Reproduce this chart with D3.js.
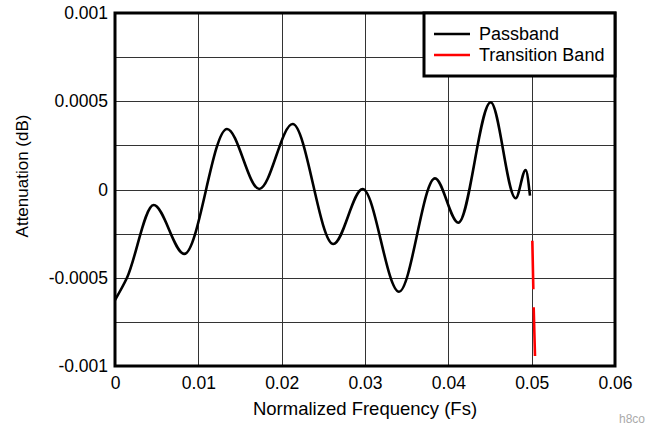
<!DOCTYPE html>
<html>
<head>
<meta charset="utf-8">
<script src="https://cdn.jsdelivr.net/npm/d3@7"></script>
<style>
  body { margin: 0; background: #fff; }
  text { font-family: "Liberation Sans", Arial, sans-serif; }
</style>
</head>
<body>
<div class="canvas"></div>
<script>
// passband ripple (start, turning points, end)
const passFreq = [0, 0.00144, 0.00464, 0.00832, 0.01344, 0.01732, 0.02132, 0.0262, 0.02972,
    0.03408, 0.0384, 0.0412, 0.04508, 0.04808, 0.04928, 0.0498]
const passAtten = [-0.000626, -0.0005, -0.000088, -0.000365, 0.000343, 0.000003, 0.000371, -0.000309, 0.000003,
    -0.000579, 0.000063, -0.000188, 0.000494, -0.00005, 0.00011, -0.000035]

// transition band, null marks the gap between the two visible pieces
const transFreq = [0.05008, 0.0502, null, 0.05024, 0.0504]
const transAtten = [-0.00029, -0.000565, null, -0.000667, -0.000943]

const xTicks = [0, 0.01, 0.02, 0.03, 0.04, 0.05, 0.06]
const yTicks = [-0.001, -0.0005, 0, 0.0005, 0.001]
const yGrid = [-0.00075, -0.0005, -0.00025, 0, 0.00025, 0.0005, 0.00075]
const seriesNames = ["Passband", "Transition Band"]
const seriesColors = ["#000000", "#ff0000"]

const width = 654
const height = 425
const margin = { top: 13, right: 39, bottom: 59, left: 115 }
const graphWidth = width - margin.left - margin.right
const graphHeight = height - margin.top - margin.bottom

const svg = d3.select(".canvas")
    .append("svg")
    .attr("width", width)
    .attr("height", height)

const graph = svg.append("g")
    .attr("transform", `translate(${margin.left}, ${margin.top})`)

const scaleX = d3.scaleLinear().domain([0, 0.06]).range([0, graphWidth])
const scaleY = d3.scaleLinear().domain([-0.001, 0.001]).range([graphHeight, 0])

// grid
graph.append("g").selectAll("line")
    .data(xTicks.slice(1, -1))
    .enter().append("line")
    .attr("x1", d => Math.round(scaleX(d)) + 0.5)
    .attr("x2", d => Math.round(scaleX(d)) + 0.5)
    .attr("y1", 0).attr("y2", graphHeight)
    .attr("stroke", "#333").attr("stroke-width", 1)

graph.append("g").selectAll("line")
    .data(yGrid)
    .enter().append("line")
    .attr("y1", d => Math.round(scaleY(d)) + 0.5)
    .attr("y2", d => Math.round(scaleY(d)) + 0.5)
    .attr("x1", 0).attr("x2", graphWidth)
    .attr("stroke", "#333").attr("stroke-width", 1)

// axes
const fmt = d => String(d)
const xAxisGroup = graph.append("g")
    .attr("transform", `translate(0, ${graphHeight})`)
    .call(d3.axisBottom(scaleX).tickValues(xTicks).tickFormat(fmt).tickSize(0).tickPadding(11))
const yAxisGroup = graph.append("g")
    .call(d3.axisLeft(scaleY).tickValues(yTicks).tickFormat(fmt).tickSize(0).tickPadding(7))

xAxisGroup.select(".domain").remove()
yAxisGroup.select(".domain").remove()
svg.selectAll(".tick text")
    .attr("font-size", 17.5)
    .attr("font-family", "Liberation Sans, Arial, sans-serif")
    .attr("fill", "#000")

// lines
const passData = passFreq.map((f, i) => ({ f: f, a: passAtten[i] }))
const transData = transFreq.map((f, i) => ({ f: f, a: transAtten[i] }))

const line = d3.line()
    .defined(d => d.f !== null)
    .x(d => scaleX(d.f))
    .y(d => scaleY(d.a))

graph.append("path")
    .datum(passData)
    .attr("fill", "none")
    .attr("stroke", seriesColors[0])
    .attr("stroke-width", 2.6)
    .attr("d", line.curve(d3.curveMonotoneX))

graph.append("path")
    .datum(transData)
    .attr("fill", "none")
    .attr("stroke", seriesColors[1])
    .attr("stroke-width", 2.6)
    .attr("d", line.curve(d3.curveLinear))

// frame
graph.append("rect")
    .attr("x", 0).attr("y", 0)
    .attr("width", graphWidth).attr("height", graphHeight)
    .attr("fill", "none")
    .attr("stroke", "#000")
    .attr("stroke-width", 3)

// legend
const legend = svg.append("g").attr("transform", "translate(424, 13)")
legend.append("rect")
    .attr("width", 191).attr("height", 63)
    .attr("fill", "#fff")
    .attr("stroke", "#000")
    .attr("stroke-width", 3)

seriesNames.forEach((name, i) => {
    const y = 21 + i * 21
    legend.append("line")
        .attr("x1", 10).attr("x2", 46)
        .attr("y1", y).attr("y2", y)
        .attr("stroke", seriesColors[i])
        .attr("stroke-width", 2.6)
    legend.append("text")
        .attr("x", 55).attr("y", y)
        .attr("dy", "0.35em")
        .attr("font-size", 18)
        .text(name)
})

// axis titles
svg.append("text")
    .attr("x", margin.left + graphWidth / 2)
    .attr("y", 415)
    .attr("text-anchor", "middle")
    .attr("font-size", 18.5)
    .text("Normalized Frequency (Fs)")

svg.append("text")
    .attr("transform", "translate(28, 176) rotate(-90)")
    .attr("text-anchor", "middle")
    .attr("font-size", 17)
    .text("Attenuation (dB)")

svg.append("text")
    .attr("x", 645)
    .attr("y", 423)
    .attr("text-anchor", "end")
    .attr("font-size", 12)
    .attr("fill", "#aaa")
    .text("h8co")
</script>
</body>
</html>
